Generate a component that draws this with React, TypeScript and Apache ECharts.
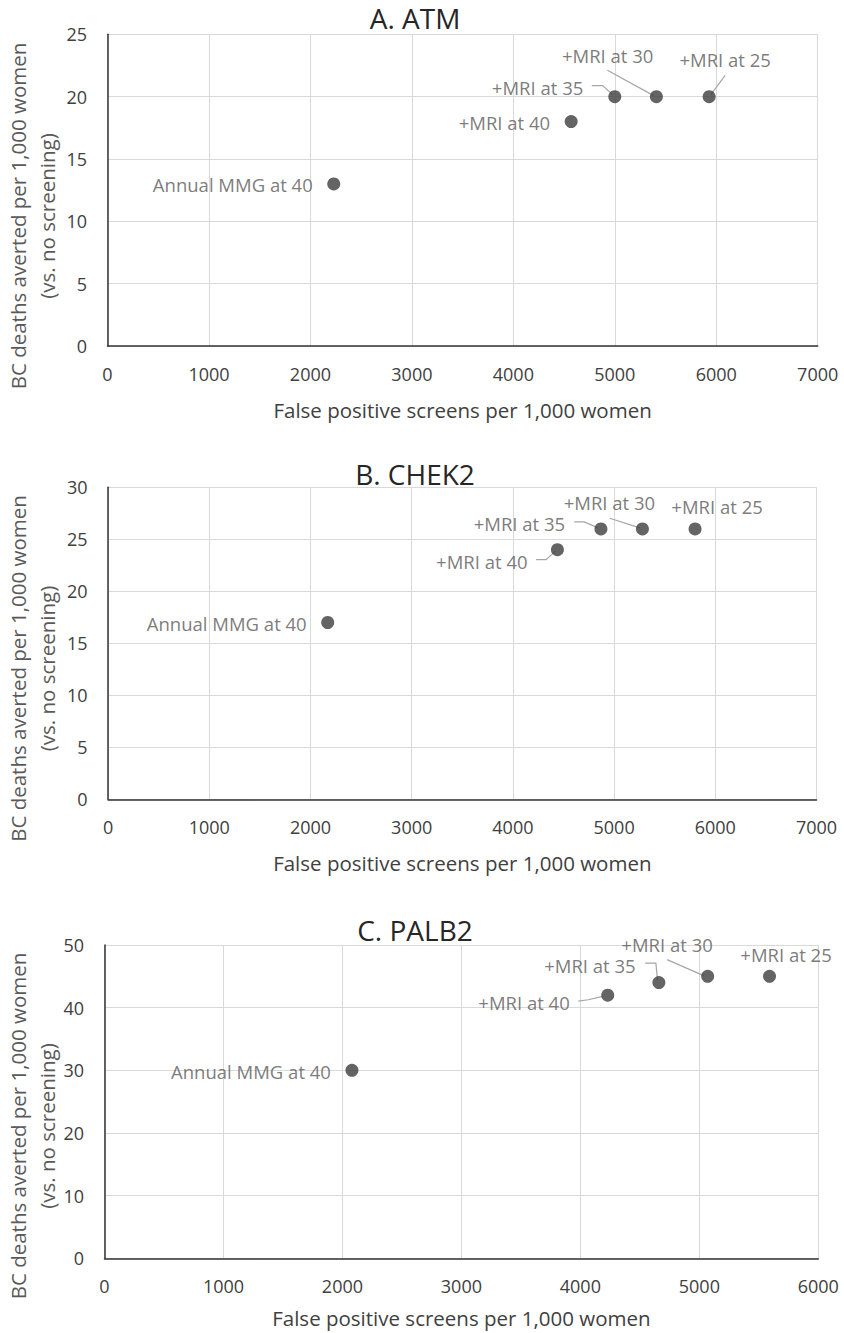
import React, { useEffect, useRef } from "react";
import * as echarts from "echarts";

// ---- data ----
const pointNames = ["Annual MMG at 40", "+MRI at 40", "+MRI at 35", "+MRI at 30", "+MRI at 25"];
const panelTitles = ["A. ATM", "B. CHEK2", "C. PALB2"];

const atmFalsePositives = [2230, 4570, 5000, 5410, 5930];
const atmDeathsAverted = [13, 18, 20, 20, 20];
const chek2FalsePositives = [2170, 4440, 4870, 5280, 5800];
const chek2DeathsAverted = [17, 24, 26, 26, 26];
const palb2FalsePositives = [2080, 4230, 4660, 5070, 5590];
const palb2DeathsAverted = [30, 42, 44, 45, 45];

const xAxisMax = [7000, 7000, 6000];
const xAxisStep = [1000, 1000, 1000];
const yAxisMax = [25, 30, 50];
const yAxisStep = [5, 5, 10];

const xTitle = "False positive screens per 1,000 women";
const yTitleLines = ["BC deaths averted per 1,000 women", "(vs. no screening)"];

// ---- layout (pixels) ----
const grids = [
  { left: 107.5, top: 34.3, width: 710.2, height: 311.7 },
  { left: 108.1, top: 487.3, width: 708.4, height: 312 },
  { left: 104.5, top: 945, width: 713.8, height: 313.3 },
];
const titleY = [18.4, 474, 930];
const titleX = 415;
const yTitleCenter = [216, 668.5, 1126];
const xNameGap = [53, 53, 49];

type LabelLayout = { left?: boolean; offset?: number[]; leader?: number[][] };
const labelLayouts: LabelLayout[][] = [
  [
    { left: true },
    { left: true },
    { offset: [-77.2, -9], leader: [[-23, -11], [-12.3, -11], [-2, -2]] },
    { offset: [-48.7, -41], leader: [[-49, -26.3], [-2.7, -1]] },
    { offset: [16, -37], leader: [[16, -21.3], [1.7, -2]] },
  ],
  [
    { left: true },
    { offset: [-75.6, 11.4], leader: [[-21.3, 10], [-11.3, 10], [-2.3, 1.7]] },
    { offset: [-81.5, -5.7], leader: [[-26.7, -7], [-16.7, -7], [-3, -1]] },
    { offset: [-33, -26.3], leader: [[-32.7, -10.7], [-2.7, -1]] },
    { offset: [22, -22.3] },
  ],
  [
    { left: true },
    { offset: [-83.7, 7], leader: [[-29.4, 6], [-19.4, 4.6], [-5, 1.3]] },
    { offset: [-69, -17], leader: [[-13.7, -19.4], [-3, -19.4], [-1.4, -2.7]] },
    { offset: [-40.6, -31.7], leader: [[-40.6, -16.7], [-4, -0.7]] },
    { offset: [16.5, -21.7] },
  ],
];

const FONT = "'Open Sans', 'Noto Sans', sans-serif";
const panelsX = [atmFalsePositives, chek2FalsePositives, palb2FalsePositives];
const panelsY = [atmDeathsAverted, chek2DeathsAverted, palb2DeathsAverted];

export default function App() {
  const ref = useRef<HTMLDivElement>(null);

  useEffect(() => {
    if (!ref.current) return;
    const chart = echarts.init(ref.current, undefined, { renderer: "svg" });

    const xAxes: any[] = [];
    const yAxes: any[] = [];
    const series: any[] = [];
    const graphics: any[] = [];

    for (let p = 0; p < 3; p++) {
      xAxes.push({
        type: "value",
        gridIndex: p,
        min: 0,
        max: xAxisMax[p],
        interval: xAxisStep[p],
        name: xTitle,
        nameLocation: "middle",
        nameGap: xNameGap[p],
        nameTextStyle: { fontFamily: FONT, fontSize: 20.5, lineHeight: 21, color: "#404040" },
        axisLine: { show: true, lineStyle: { color: "#333333", width: 1.5 } },
        axisTick: { show: false },
        axisLabel: {
          fontFamily: FONT,
          fontSize: 18,
          color: "#404040",
          margin: 19,
          formatter: (v: number) => String(v),
        },
        splitLine: { show: true, lineStyle: { color: "#d9d9d9", width: 1 } },
      });
      yAxes.push({
        type: "value",
        gridIndex: p,
        min: 0,
        max: yAxisMax[p],
        interval: yAxisStep[p],
        axisLine: { show: true, lineStyle: { color: "#333333", width: 1.5 } },
        axisTick: { show: false },
        axisLabel: {
          fontFamily: FONT,
          fontSize: 18,
          color: "#404040",
          margin: 20.5,
          formatter: (v: number) => String(v),
        },
        splitLine: { show: true, lineStyle: { color: "#d9d9d9", width: 1 } },
      });

      const layouts = labelLayouts[p];
      const data = panelsX[p].map((x, i) => {
        const lay = layouts[i];
        const label = lay.left
          ? { position: "left", distance: 14.5, offset: [0, 1] }
          : { position: "inside", offset: lay.offset, align: "center", verticalAlign: "middle" };
        return { value: [x, panelsY[p][i]], name: pointNames[i], label };
      });

      series.push({
        type: "custom",
        xAxisIndex: p,
        yAxisIndex: p,
        z: 1,
        silent: true,
        data: panelsX[p].map((x, i) => [x, panelsY[p][i], i]),
        renderItem: (params: any, api: any) => {
          const idx = api.value(2);
          const lead = layouts[idx] && layouts[idx].leader;
          if (!lead) return null;
          const c = api.coord([api.value(0), api.value(1)]);
          return {
            type: "polyline",
            shape: { points: lead.map((d) => [c[0] + d[0], c[1] + d[1]]) },
            style: { stroke: "#a6a6a6", lineWidth: 1.2, fill: null },
          };
        },
      });

      series.push({
        type: "scatter",
        xAxisIndex: p,
        yAxisIndex: p,
        z: 3,
        symbol: "circle",
        symbolSize: 13,
        itemStyle: { color: "#3d3d3d" },
        label: {
          show: true,
          formatter: (d: any) => d.name,
          fontFamily: FONT,
          fontSize: 18.5,
          color: "#595959",
        },
        data,
      });

      graphics.push({
        type: "text",
        x: titleX,
        y: titleY[p],
        style: {
          text: panelTitles[p],
          font: `28px ${FONT}`,
          fill: "#262626",
          align: "center",
          verticalAlign: "middle",
        },
      });
      graphics.push({
        type: "text",
        x: 32,
        y: yTitleCenter[p],
        rotation: Math.PI / 2,
        style: {
          text: yTitleLines.join("\n"),
          font: `20.5px ${FONT}`,
          lineHeight: 29,
          fill: "#595959",
          align: "center",
          verticalAlign: "middle",
        },
      });
    }

    chart.setOption({
      animation: false,
      backgroundColor: "#ffffff",
      grid: grids.map((g) => ({ ...g, containLabel: false, outerBoundsMode: "none" })),
      xAxis: xAxes,
      yAxis: yAxes,
      series,
      graphic: graphics,
    });

    return () => chart.dispose();
  }, []);

  return (
    <div
      ref={ref}
      style={{ position: "absolute", left: 0, top: 0, width: 844, height: 1333, background: "#fff" }}
    />
  );
}
